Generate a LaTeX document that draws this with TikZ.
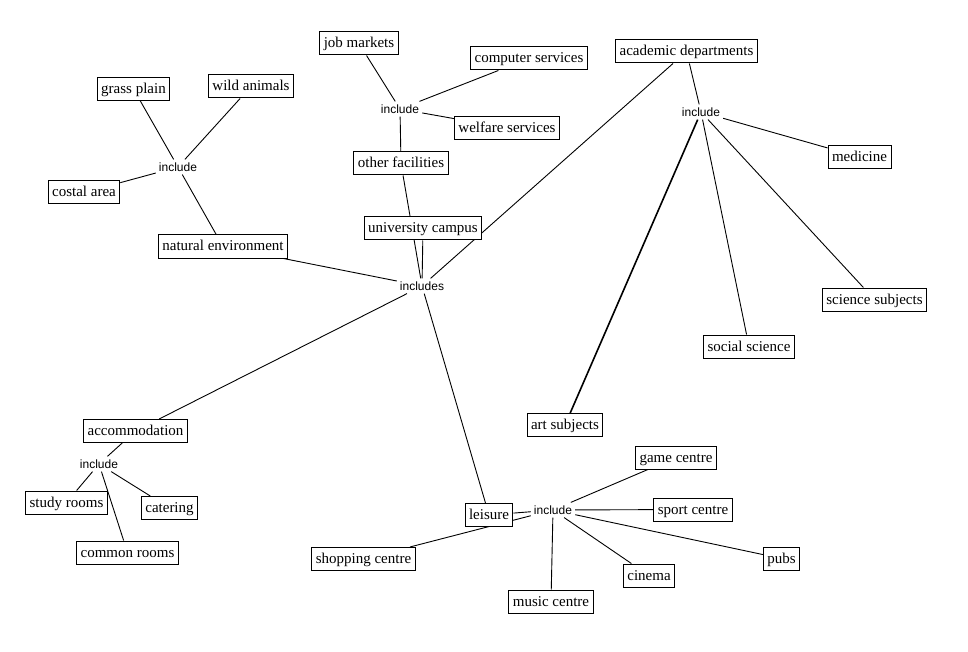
\documentclass[tikz,border=0pt]{standalone}
\usepackage{fontspec}
\setmainfont{Liberation Serif}
\newfontfamily\incfont{Liberation Sans}
\usetikzlibrary{backgrounds}
\tikzset{
  box/.style={draw, line width=1pt, fill=white, font=\fontsize{15}{18}\selectfont,
    inner xsep=4pt, inner ysep=3pt, text height=13pt, text depth=4pt},
  inc/.style={font=\incfont\fontsize{12}{14}\selectfont, inner sep=3pt},
  link/.style={line width=0.9pt},
  boldlink/.style={line width=1.6pt}
}
\begin{document}
\begin{tikzpicture}[x=1pt,y=-1pt]
\useasboundingbox (0,0) rectangle (968,652);
% natural environment cluster
\node[box] (grass) at (133.5,89) {grass plain};
\node[box] (wild) at (251,86.5) {wild animals};
\node[inc] (incN) at (178,167) {include};
\node[box] (costal) at (84,192.5) {costal area};
\node[box] (natenv) at (223,246.5) {natural environment};
% other facilities cluster
\node[box] (job) at (359,43.5) {job markets};
\node[box] (comp) at (529,58.5) {computer services};
\node[inc] (incF) at (400,109) {include};
\node[box] (welf) at (507,128) {welfare services};
\node[box] (ofac) at (401,163.5) {other facilities};
\node[box] (campus) at (423,228.5) {university campus};
\node[inc] (incs) at (422,286) {includes};
% academic cluster
\node[box] (acad) at (686.5,51.5) {academic departments};
\node[inc] (incA) at (701,112) {include};
\node[box] (med) at (859.5,157) {medicine};
\node[box] (sci) at (874.5,299.5) {science subjects};
\node[box] (soc) at (749,346.5) {social science};
\node[box] (art) at (565,425) {art subjects};
% accommodation cluster
\node[box] (accom) at (135.5,431) {accommodation};
\node[inc] (incC) at (99,464) {include};
\node[box] (study) at (66.5,502.5) {study rooms};
\node[box] (cater) at (169.5,508) {catering};
\node[box] (common) at (127.5,552.5) {common rooms};
% leisure cluster
\node[box] (leis) at (489,515) {leisure};
\node[inc] (incL) at (553,510) {include};
\node[box] (game) at (676,457.5) {game centre};
\node[box] (sport) at (693,509.5) {sport centre};
\node[box] (pubs) at (781.5,558.5) {pubs};
\node[box] (cine) at (649,575.5) {cinema};
\node[box] (music) at (551,601.5) {music centre};
\node[box] (shop) at (363.5,559) {shopping centre};
\begin{pgfonlayer}{background}
\draw[link] (grass) -- (incN);
\draw[link] (wild) -- (incN);
\draw[link] (costal) -- (incN);
\draw[link] (natenv) -- (incN);
\draw[link] (job) -- (incF);
\draw[link] (comp) -- (incF);
\draw[link] (welf) -- (incF);
\draw[link] (ofac) -- (incF);
\draw[link] (ofac) -- (incs);
\draw[link] (campus) -- (incs);
\draw[link] (natenv) -- (incs);
\draw[link] (acad) -- (incs);
\draw[link] (accom) -- (incs);
\draw[link] (leis) -- (incs);
\draw[link] (acad) -- (incA);
\draw[link] (med) -- (incA);
\draw[link] (sci) -- (incA);
\draw[link] (soc) -- (incA);
\draw[boldlink] (art) -- (incA);
\draw[link] (accom) -- (incC);
\draw[link] (study) -- (incC);
\draw[link] (cater) -- (incC);
\draw[link] (common) -- (incC);
\draw[link] (leis) -- (incL);
\draw[link] (shop) -- (incL);
\draw[link] (game) -- (incL);
\draw[link] (sport) -- (incL);
\draw[link] (pubs) -- (incL);
\draw[link] (cine) -- (incL);
\draw[link] (music) -- (incL);
\end{pgfonlayer}
\end{tikzpicture}
\end{document}
